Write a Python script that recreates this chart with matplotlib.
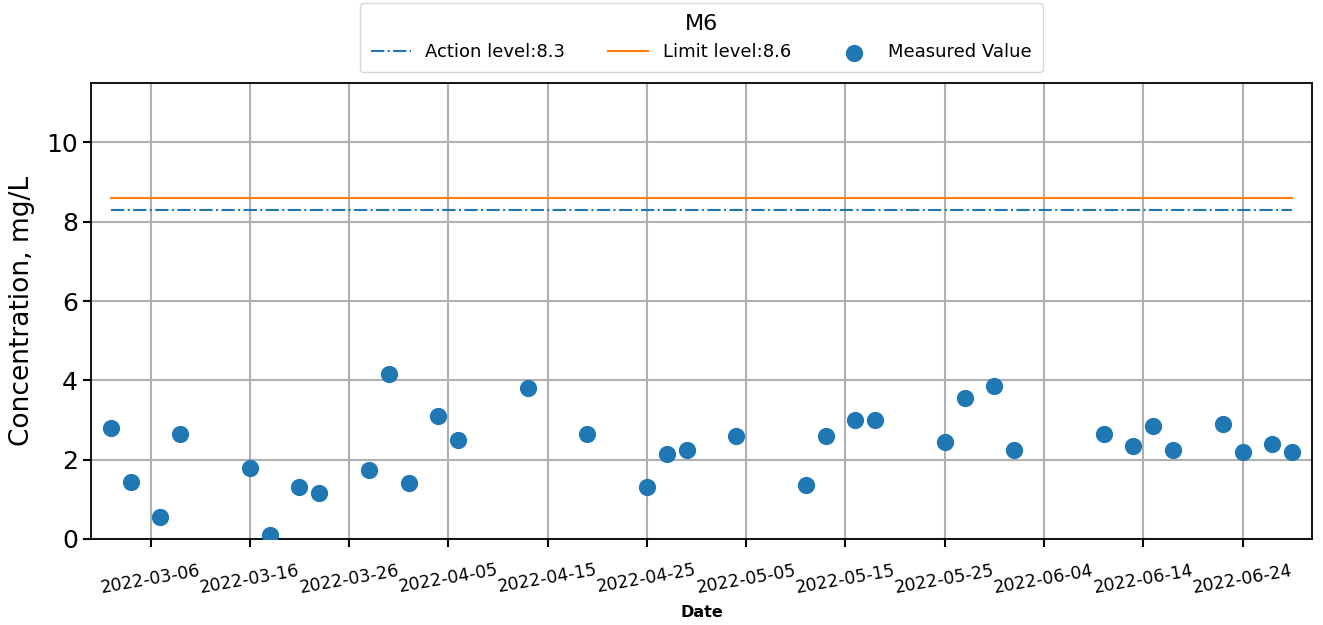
import numpy as np
import pandas as pd
import matplotlib
matplotlib.use('Agg')
from matplotlib import pyplot as plt
import matplotlib.dates as mdates

dates = ['2022-03-02', '2022-03-04', '2022-03-07', '2022-03-09', '2022-03-16',
         '2022-03-18', '2022-03-21', '2022-03-23', '2022-03-28', '2022-03-30',
         '2022-04-01', '2022-04-04', '2022-04-06', '2022-04-13', '2022-04-19',
         '2022-04-25', '2022-04-27', '2022-04-29', '2022-05-04', '2022-05-11',
         '2022-05-13', '2022-05-16', '2022-05-18', '2022-05-25', '2022-05-27',
         '2022-05-30', '2022-06-01', '2022-06-10', '2022-06-13', '2022-06-15',
         '2022-06-17', '2022-06-22', '2022-06-24', '2022-06-27', '2022-06-29']
values = [2.8, 1.45, 0.55, 2.65, 1.8,
          0.1, 1.3, 1.15, 1.75, 4.15,
          1.4, 3.1, 2.5, 3.8, 2.65,
          1.3, 2.15, 2.25, 2.6, 1.35,
          2.6, 3.0, 3.0, 2.45, 3.55,
          3.85, 2.25, 2.65, 2.35, 2.85,
          2.25, 2.9, 2.2, 2.4, 2.2]
action_level = 8.3
limit_level = 8.6
tick_dates = ['2022-03-06', '2022-03-16', '2022-03-26', '2022-04-05', '2022-04-15',
              '2022-04-25', '2022-05-05', '2022-05-15', '2022-05-25', '2022-06-04',
              '2022-06-14', '2022-06-24']

x = pd.to_datetime(dates)
xt = pd.to_datetime(tick_dates)

fig = plt.figure(figsize=(13.23, 6.25), dpi=100)
ax = fig.add_axes([91/1323, 1-539/625, (1312-91)/1323, (539-83)/625])

ax.plot(x, [action_level]*len(x), '-.', c='tab:blue', label='Action level:' + str(action_level))
ax.plot(x, [limit_level]*len(x), '-', c='tab:orange', label='Limit level:' + str(limit_level))
ax.scatter(x, values, s=130, c='tab:blue', label='Measured Value', zorder=3)

ax.set_xlim(x[0] - pd.Timedelta(days=2), x[-1] + pd.Timedelta(days=2))
ax.set_ylim(0, 11.5)
ax.set_xticks(xt)
ax.xaxis.set_major_formatter(mdates.DateFormatter('%Y-%m-%d'))
ax.grid(True, color='#b0b0b0', linewidth=1.5)
ax.set_axisbelow(True)

for lab in ax.get_xticklabels():
    lab.set_rotation(10)
    lab.set_fontsize(12.5)
ax.tick_params(axis='x', length=6, width=1.5, pad=10)
ax.tick_params(axis='y', labelsize=18, length=6, width=1.5)
for sp in ax.spines.values():
    sp.set_linewidth(1.3)
ax.set_xlabel('Date', fontsize=11.5, fontweight='bold', labelpad=6)
ax.set_ylabel('Concentration, mg/L', fontsize=19, labelpad=8)

leg = ax.legend(loc='lower center', bbox_to_anchor=(0.5, 1.0), ncol=3, title='M6',
                fontsize=13, title_fontsize=16, columnspacing=2.4, handlelength=2.2,
                borderaxespad=0.6, borderpad=0.6)

fig.savefig('out.png', dpi=100)
